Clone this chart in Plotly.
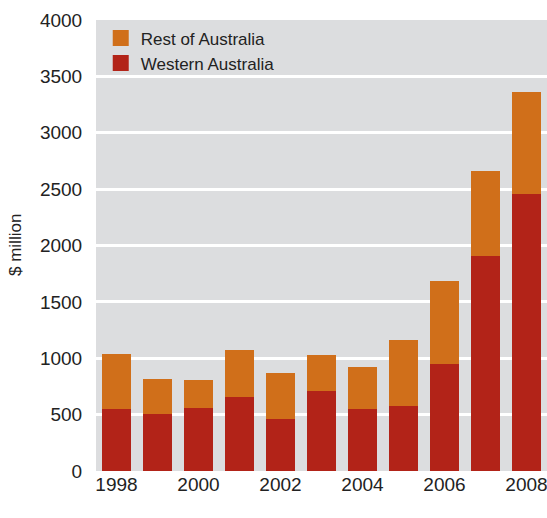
import plotly.graph_objects as go

years = [1998, 1999, 2000, 2001, 2002, 2003, 2004, 2005, 2006, 2007, 2008]
western = [550, 505, 559, 656, 461, 710, 550, 576, 949, 1907, 2457]
totals = [1038, 816, 807, 1073, 869, 1029, 922, 1162, 1685, 2661, 3361]
rest = [t - w for t, w in zip(totals, western)]
x_ticks = [1998, 2000, 2002, 2004, 2006, 2008]
y_ticks = [0, 500, 1000, 1500, 2000, 2500, 3000, 3500, 4000]

RED = "#B22318"
ORANGE = "#D06F1A"
FONT = "Liberation Sans Narrow, Arial Narrow, Liberation Sans, Arial, sans-serif"

fig = go.Figure()
fig.add_trace(go.Bar(x=years, y=western, name="Western Australia", showlegend=False,
                     marker=dict(color=RED, line=dict(width=0))))
fig.add_trace(go.Bar(x=years, y=rest, name="Rest of Australia", showlegend=False,
                     marker=dict(color=ORANGE, line=dict(width=0))))
# legend entries with larger square swatches
fig.add_trace(go.Scatter(x=[None], y=[None], mode="markers", name="Rest of Australia",
                         marker=dict(symbol="square", size=19, color=ORANGE)))
fig.add_trace(go.Scatter(x=[None], y=[None], mode="markers", name="Western Australia",
                         marker=dict(symbol="square", size=19, color=RED)))

fig.update_layout(
    barmode="stack",
    bargap=0.27,
    width=547, height=518,
    margin=dict(l=96, r=0, t=20, b=47, pad=0, autoexpand=False),
    plot_bgcolor="#DCDDDF",
    paper_bgcolor="white",
    font=dict(family=FONT, size=19, color="#222222"),
    showlegend=True,
    legend=dict(traceorder="normal", x=0.0105, y=0.999, xanchor="left", yanchor="top",
                bgcolor="rgba(0,0,0,0)", font=dict(size=17, family=FONT),
                itemsizing="trace", tracegroupgap=0),
    xaxis=dict(range=[1997.5, 2008.5], tickmode="array", tickvals=x_ticks,
               ticktext=[str(v) for v in x_ticks], showgrid=False, zeroline=False,
               ticks="", ticklabeloverflow="allow", automargin=False,
               tickfont=dict(size=19, family=FONT)),
    yaxis=dict(range=[0, 4000], tickmode="array", tickvals=y_ticks,
               ticktext=[str(v) for v in y_ticks], showgrid=True, gridcolor="white",
               gridwidth=3, zeroline=False, ticks="outside", ticklen=9, automargin=False,
               tickcolor="rgba(0,0,0,0)", tickfont=dict(size=19, family=FONT)),
    annotations=[dict(text="$ million", xref="paper", yref="paper",
                      x=-(96 - 15) / 451, y=(471 - 245) / 451, xanchor="center",
                      yanchor="middle", textangle=-90, showarrow=False,
                      font=dict(size=17, family=FONT, color="#222222"))],
)

fig.write_html("out.html", config={"displayModeBar": False},
               post_script="document.body.style.margin='0';document.body.style.overflow='hidden';")
